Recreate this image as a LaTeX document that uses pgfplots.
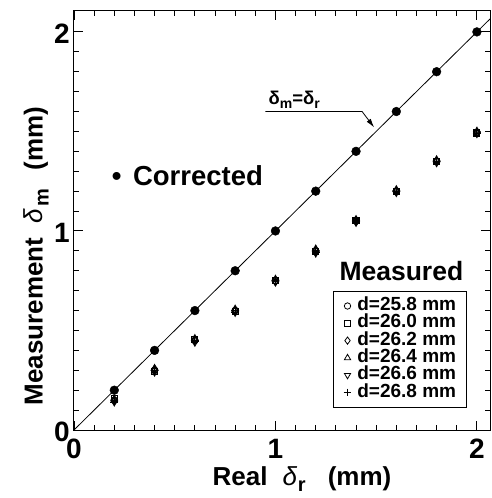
\documentclass[border=0pt]{standalone}
\usepackage{fontspec}
\setmainfont{Liberation Sans}
\usepackage{pgfplots}
\pgfplotsset{compat=1.18}
\usetikzlibrary{arrows.meta}

\pgfplotstableread{
x y
0.2 0.2
0.4 0.4
0.6 0.6
0.8 0.8
1.0 1.0
1.2 1.2
1.4 1.4
1.6 1.6
1.8 1.8
2.0 2.0
}\corrected

\pgfplotstableread{
x a b c d e f
0.2 0.150 0.160 0.145 0.155 0.140 0.140
0.4 0.300 0.295 0.305 0.310 0.290 0.290
0.6 0.450 0.455 0.450 0.460 0.440 0.445
0.8 0.600 0.595 0.600 0.608 0.590 0.592
1.0 0.750 0.752 0.745 0.758 0.742 0.745
1.2 0.900 0.895 0.900 0.910 0.888 0.892
1.4 1.050 1.052 1.048 1.058 1.042 1.045
1.6 1.200 1.198 1.200 1.208 1.192 1.195
1.8 1.350 1.348 1.352 1.358 1.342 1.345
2.0 1.495 1.492 1.495 1.502 1.488 1.490
}\measured

\begin{document}
\begin{tikzpicture}
\useasboundingbox (-74pt,-68pt) rectangle (417pt,430pt);
\begin{axis}[
  scale only axis, width=416pt, height=419pt,
  xmin=0, xmax=2.065, ymin=0, ymax=2.105,
  xtick={0,1,2}, ytick={0,1,2},
  minor x tick num=9, minor y tick num=9,
  tick align=inside, major tick length=9pt, minor tick length=5pt,
  every tick/.style={black, line width=0.9pt},
  axis line style={line width=1pt},
  ticklabel style={font=\fontsize{28}{28}\selectfont\bfseries},
  /pgf/number format/assume math mode=true,
  xticklabel style={inner sep=0pt, yshift=-9pt},
  yticklabel style={inner sep=0pt, xshift=-4pt, yshift=-2pt},
  xlabel={\fontsize{26}{26}\selectfont\bfseries Real\hspace{15pt}{\mdseries\itshape δ}\hspace{1pt}\raisebox{-6pt}{\fontsize{20}{20}\selectfont r}\hspace{22pt}(mm)},
  ylabel={\fontsize{26}{26}\selectfont\bfseries Measurement\hspace{14pt}{\mdseries\itshape δ}\hspace{3pt}\raisebox{-6pt}{\fontsize{20}{20}\selectfont m}\hspace{18pt}(mm)},
  xlabel style={at={(axis description cs:0.548,-0.118)}, anchor=center},
  ylabel style={at={(axis description cs:-0.091,0.415)}, anchor=center},
  legend style={at={(axis cs:1.287,0.698)}, anchor=north west, draw=black, line width=0.9pt,
    font=\fontsize{19}{19}\selectfont\bfseries, row sep=2.3pt, inner xsep=10pt, inner ysep=7pt,
    nodes={inner sep=0pt, text height=12pt, text depth=3pt},
    /tikz/every odd column/.append style={column sep=6pt},
    legend cell align=left},
  legend image post style={line width=0.8pt},
]
\addplot[black, line width=0.8pt, forget plot] coordinates {(0,0) (2.065,2.065)};
\addplot[only marks, mark=*, mark size=4.4pt, black, forget plot] table[x=x,y=y] {\corrected};
\addplot[only marks, mark=o, mark size=3.2pt, black, line width=1.1pt] table[x=x,y=a] {\measured};
\addlegendentry{d=25.8 mm}
\addplot[only marks, mark=square, mark size=3pt, black, line width=1.1pt] table[x=x,y=b] {\measured};
\addlegendentry{d=26.0 mm}
\addplot[only marks, mark=diamond, mark size=3.6pt, black, line width=1.1pt] table[x=x,y=c] {\measured};
\addlegendentry{d=26.2 mm}
\addplot[only marks, mark=triangle, mark size=3.6pt, black, line width=1.1pt] table[x=x,y=d] {\measured};
\addlegendentry{d=26.4 mm}
\addplot[only marks, mark=triangle, mark size=3.6pt, mark options={rotate=180}, black, line width=1.1pt] table[x=x,y=e] {\measured};
\addlegendentry{d=26.6 mm}
\addplot[only marks, mark=+, mark size=3.8pt, black, line width=1.1pt] table[x=x,y=f] {\measured};
\addlegendentry{d=26.8 mm}
\node[font=\fontsize{27.5}{27.5}\selectfont\bfseries, anchor=west] at (axis cs:0.17,1.28) {•\hspace{4pt} Corrected};
\node[font=\fontsize{26.5}{26.5}\selectfont\bfseries, anchor=center] at (axis cs:1.625,0.80) {Measured};
\node[font=\fontsize{18.5}{18.5}\selectfont\bfseries, anchor=south west, inner sep=0pt] at (axis cs:0.965,1.615) {δ\raisebox{-4pt}{\fontsize{14}{14}\selectfont m}=δ\raisebox{-4pt}{\fontsize{14}{14}\selectfont r}};
\draw[line width=0.8pt, -{Latex[length=9pt,width=5pt]}] (axis cs:0.95,1.6) -- (axis cs:1.43,1.6) -- (axis cs:1.49,1.52);
\end{axis}
\end{tikzpicture}
\end{document}
